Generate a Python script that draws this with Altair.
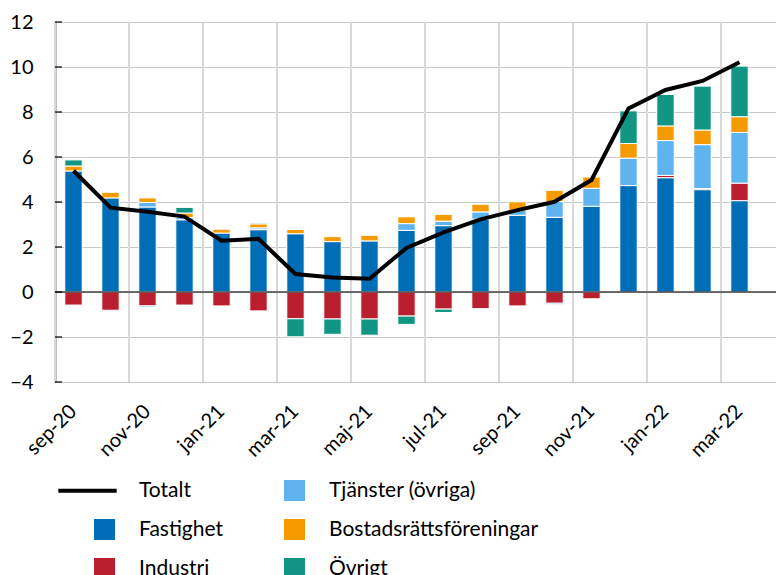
import altair as alt
import pandas as pd

months = ["sep-20", "okt-20", "nov-20", "dec-20", "jan-21", "feb-21", "mar-21",
          "apr-21", "maj-21", "jun-21", "jul-21", "aug-21", "sep-21", "okt-21",
          "nov-21", "dec-21", "jan-22", "feb-22", "mar-22"]
axis_months = months + ["apr-22"]
tick_labels = ["sep-20", "nov-20", "jan-21", "mar-21", "maj-21", "jul-21",
               "sep-21", "nov-21", "jan-22", "mar-22"]

fastighet = [5.38, 4.18, 3.78, 3.21, 2.62, 2.77, 2.59, 2.24, 2.27, 2.74, 2.95,
             3.24, 3.41, 3.32, 3.81, 4.73, 5.08, 4.55, 4.06]
industri = [-0.58, -0.81, -0.62, -0.58, -0.62, -0.84, -1.19, -1.20, -1.20, -1.07,
            -0.76, -0.74, -0.62, -0.50, -0.30, 0.0, 0.10, 0.05, 0.78]
tjanster = [0.0, 0.0, 0.20, 0.10, 0.0, 0.08, 0.0, 0.0, 0.0, 0.30, 0.20, 0.32,
            0.22, 0.70, 0.80, 1.22, 1.55, 1.95, 2.25]
tjanster_neg = [0.0, 0.0, -0.05, 0.0, 0.0, 0.0, 0.0, 0.0, 0.0, 0.0, 0.0, 0.0,
                0.0, 0.0, 0.0, 0.0, 0.0, 0.0, 0.0]
bostad = [0.22, 0.25, 0.20, 0.20, 0.17, 0.18, 0.19, 0.22, 0.25, 0.30, 0.30, 0.34,
          0.38, 0.50, 0.50, 0.65, 0.65, 0.65, 0.70]
ovrigt = [0.27, 0.0, 0.0, 0.25, 0.0, 0.04, -0.80, -0.68, -0.72, -0.37, -0.15, 0.0,
          0.0, -0.06, 0.0, 1.45, 1.40, 1.95, 2.25]
totalt = [5.39, 3.75, 3.57, 3.35, 2.28, 2.36, 0.80, 0.64, 0.59, 1.96, 2.65, 3.23,
          3.64, 4.01, 4.98, 8.16, 8.98, 9.38, 10.21]

y_ticks = [-4, -2, 0, 2, 4, 6, 8, 10, 12]

legend_order = ["Totalt", "Fastighet", "Industri", "Tjänster (övriga)",
                "Bostadsrättsföreningar", "Övrigt"]
colors = ["#000000", "#006EB7", "#B91F2E", "#5FB4F0", "#F59B00", "#109682"]
shapes = ["M-4.4,-0.19H1.16V0.19H-4.4Z", "square", "square", "square", "square", "square"]

FONT = "Lato"

series = [("Fastighet", fastighet, 0), ("Industri", industri, 1),
          ("Tjänster (övriga)", tjanster, 2), ("Tjänster (övriga)", tjanster_neg, 2),
          ("Bostadsrättsföreningar", bostad, 3), ("Övrigt", ovrigt, 4)]
rows = []
for name, vals, o in series:
    for m, v in zip(months, vals):
        if v != 0:
            rows.append({"month": m, "serie": name, "value": v, "ord": o})
bars_df = pd.DataFrame(rows)
line_df = pd.DataFrame({"month": months, "value": totalt, "serie": "Totalt"})
grid_df = pd.DataFrame({"month": tick_labels})
ticks_df = pd.DataFrame({"t": y_ticks})
legend_df = pd.DataFrame({"serie": legend_order})

PAD_IN = 0.53
RANGE = 740
STEP = RANGE / len(axis_months)
x_scale = alt.Scale(domain=axis_months, range=[0, RANGE], paddingInner=PAD_IN,
                    paddingOuter=PAD_IN / 2)
y_scale = alt.Scale(domain=[-4, 12], nice=False)
color_scale = alt.Scale(domain=legend_order, range=colors)
shape_scale = alt.Scale(domain=legend_order, range=shapes)

x_axis = alt.Axis(values=tick_labels, labelAngle=-45, labelAlign="right",
                  labelBaseline="middle", labelPadding=26, labelFont=FONT,
                  labelFontSize=20, labelColor="#000000", domain=False,
                  ticks=False, tickSize=0, grid=False, title=None)
y_axis = alt.Axis(values=y_ticks, grid=True, gridColor="#C8C8C8", gridWidth=1,
                  domain=True, domainColor="#000000", domainWidth=1.5,
                  ticks=False, tickSize=0, labelPadding=22, labelFont=FONT,
                  labelFontSize=20, labelColor="#000000", title=None)

legend_spec = alt.Legend(orient="none", legendX=39, legendY=458, columns=2,
                         columnPadding=60, rowPadding=17, symbolSize=441,
                         symbolStrokeWidth=0, symbolOpacity=1, labelFont=FONT,
                         labelFontSize=21, labelColor="#000000", labelOffset=24,
                         labelLimit=400, padding=0, title=None)

# grid lines at the start of every labelled month's step (bar start minus half the gap)
vgrid = alt.Chart(grid_df).mark_rule(color="#D9D9D9", strokeWidth=2,
                                     xOffset=-PAD_IN / 2 * STEP).encode(
    x=alt.X("month:N", scale=x_scale, sort=axis_months, bandPosition=0, axis=x_axis)
)

bars = alt.Chart(bars_df).mark_bar(stroke="white", strokeWidth=1).encode(
    x=alt.X("month:N", scale=x_scale, sort=axis_months, axis=x_axis),
    y=alt.Y("value:Q", stack="zero", scale=y_scale, axis=y_axis),
    color=alt.Color("serie:N", scale=color_scale, legend=legend_spec),
    order=alt.Order("ord:Q"),
)

zero = alt.Chart(ticks_df).transform_filter("datum.t == 0").mark_rule(
    color="#404040", strokeWidth=1.5).encode(y=alt.Y("t:Q", scale=y_scale))

inner_ticks = alt.Chart(ticks_df).mark_rule(color="#000000", strokeWidth=1.2).encode(
    y=alt.Y("t:Q", scale=y_scale), x=alt.value(0), x2=alt.value(7)
)

line = alt.Chart(line_df).mark_line(color="#000000", strokeWidth=4).encode(
    x=alt.X("month:N", scale=x_scale, sort=axis_months),
    y=alt.Y("value:Q", scale=y_scale),
)

legend_layer = alt.Chart(legend_df).transform_filter("false").mark_point(
    filled=True).encode(
    color=alt.Color("serie:N", scale=color_scale, legend=legend_spec),
    shape=alt.Shape("serie:N", scale=shape_scale, legend=legend_spec),
)

chart = alt.layer(vgrid, bars, zero, inner_ticks, line, legend_layer).properties(
    width=721, height=360,
    autosize=alt.AutoSizeParams(type="none"),
    padding={"left": 47, "top": 14, "right": 0, "bottom": 205},
).configure_view(stroke=None)

chart.save("out.html", embed_options={"renderer": "svg", "actions": False})
